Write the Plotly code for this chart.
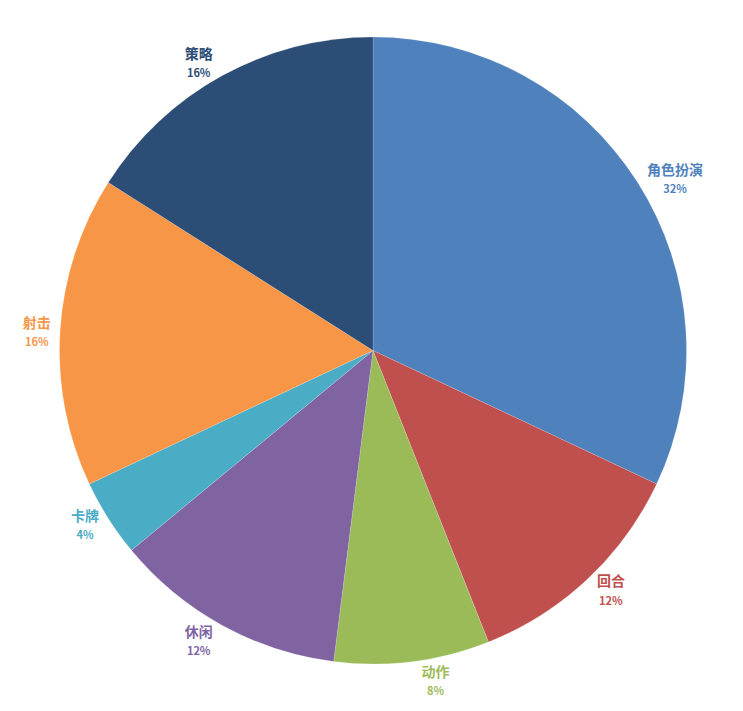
import plotly.graph_objects as go

genres = ["角色扮演", "回合", "动作", "休闲", "卡牌", "射击", "策略"]
shares = [32, 12, 8, 12, 4, 16, 16]
colors = ["#4F81BD", "#C0504D", "#9BBB59", "#8064A2", "#4BACC6", "#F79646", "#2C4D75"]

fig = go.Figure(go.Pie(
    labels=genres,
    values=shares,
    sort=False,
    direction="clockwise",
    rotation=0,
    marker=dict(colors=colors, line=dict(color="rgba(255,255,255,0.3)", width=0.5)),
    textposition="outside",
    texttemplate="<b>%{label}</b><br><span style='font-size:11px'><b>%{percent:.0%}</b></span>",
    textfont=dict(family="Noto Sans CJK SC", size=14, color=colors),
    showlegend=False,
    hoverinfo="label+percent",
))

fig.update_layout(
    width=743, height=711,
    margin=dict(l=2, r=60, t=29, b=55),
    paper_bgcolor="white",
    plot_bgcolor="white",
)

fig.write_html("out.html")
